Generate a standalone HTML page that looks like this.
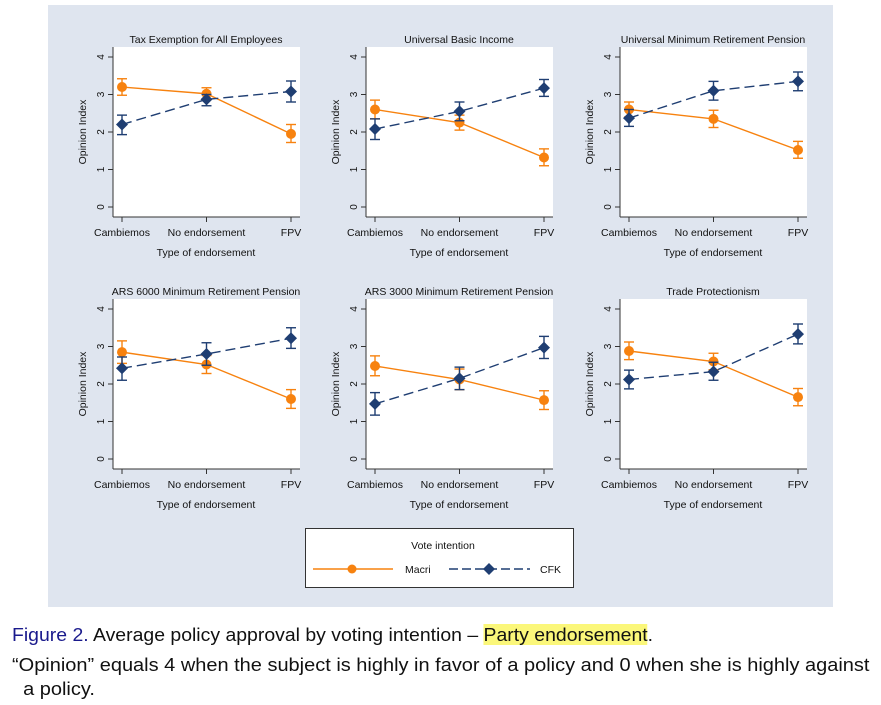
<!DOCTYPE html>
<html><head><meta charset="utf-8"><style>
body{margin:0;background:#fff;width:881px;height:705px;overflow:hidden;font-family:"Liberation Sans",sans-serif}
#bg{position:absolute;left:48px;top:5px;width:785px;height:602px;background:#dfe5ef}
.cap{position:absolute;left:12px;font-family:"Liberation Sans",sans-serif;font-size:18.5px;color:#111;white-space:nowrap;transform-origin:0 0}
</style></head><body>
<div id="bg"></div>
<svg id="chart" width="881" height="705" style="position:absolute;left:0;top:0"></svg>
<div class="cap" style="top:624px;transform:scaleX(1.05)"><span style="color:#1a1a8c">Figure 2.</span> Average policy approval by voting intention – <span style="background:#fbf77a">Party endorsement</span>.</div>
<div class="cap" style="top:653px;font-size:18px;line-height:24px;transform:scaleX(1.11)">“Opinion” equals 4 when the subject is highly in favor of a policy and 0 when she is highly against<br>&nbsp;&nbsp;a policy.</div>
<script>
const titles=["Tax Exemption for All Employees","Universal Basic Income","Universal Minimum Retirement Pension","ARS 6000 Minimum Retirement Pension","ARS 3000 Minimum Retirement Pension","Trade Protectionism"];
const categories=["Cambiemos","No endorsement","FPV"];
const yTicks=[0,1,2,3,4];
const macriMean=[[3.2,3.02,1.95],[2.6,2.25,1.32],[2.6,2.35,1.52],[2.85,2.52,1.6],[2.48,2.12,1.57],[2.88,2.6,1.65]];
const macriLo=[[2.98,2.88,1.72],[2.35,2.05,1.1],[2.4,2.12,1.3],[2.55,2.28,1.35],[2.22,1.85,1.32],[2.65,2.38,1.42]];
const macriHi=[[3.42,3.18,2.2],[2.85,2.45,1.55],[2.8,2.58,1.75],[3.15,2.76,1.85],[2.75,2.4,1.82],[3.12,2.82,1.88]];
const cfkMean=[[2.2,2.87,3.08],[2.08,2.55,3.17],[2.37,3.1,3.35],[2.42,2.8,3.22],[1.47,2.15,2.97],[2.12,2.33,3.33]];
const cfkLo=[[1.93,2.7,2.8],[1.8,2.3,2.95],[2.15,2.85,3.1],[2.1,2.5,2.95],[1.17,1.85,2.68],[1.87,2.1,3.07]];
const cfkHi=[[2.45,3.0,3.36],[2.35,2.8,3.4],[2.6,3.35,3.6],[2.72,3.1,3.5],[1.77,2.45,3.27],[2.37,2.58,3.6]];
const svg=document.getElementById('chart');const NS="http://www.w3.org/2000/svg";
function mk(t,a,p){const e=document.createElementNS(NS,t);for(const k in a)e.setAttribute(k,a[k]);(p||svg).appendChild(e);return e;}
const OR="#f7820f",NV="#1f3e72";
for(let i=0;i<6;i++){
 const L=[113,366,620][i%3],T=[47,299][Math.floor(i/3)];
 const g=mk('g',{});
 
 
 const X=c=>L+9+c*84.5, Y=v=>T+160-v*37.5;
 const r=mk('rect',{x:L,y:T,width:187,height:170,fill:'#fff'},g);
 
 const t=mk('text',{x:L+93,y:T-4,'text-anchor':'middle','font-size':10.5,fill:'#111'},g);t.textContent=titles[i];
 
 mk('line',{x1:L,y1:T,x2:L,y2:T+170,stroke:'#333','stroke-width':1},g);
 mk('line',{x1:L,y1:T+170,x2:L+187,y2:T+170,stroke:'#333','stroke-width':1},g);
 yTicks.forEach(v=>{mk('line',{x1:L-5,y1:Y(v),x2:L,y2:Y(v),stroke:'#333'},g);
  const tt=mk('text',{x:L-9,y:Y(v),'font-size':10,fill:'#111','text-anchor':'middle',transform:`rotate(-90 ${L-9} ${Y(v)})`},g);tt.textContent=v;
  });
 const yt=mk('text',{x:L-27,y:T+85,'font-size':10.5,fill:'#111','text-anchor':'middle',transform:`rotate(-90 ${L-27} ${T+85})`},g);yt.textContent="Opinion Index";
 
 categories.forEach((c,k)=>{mk('line',{x1:X(k),y1:T+170,x2:X(k),y2:T+175,stroke:'#333'},g);
  const tt=mk('text',{x:X(k),y:T+189,'font-size':10.5,fill:'#111','text-anchor':'middle'},g);tt.textContent=c;
  });
 const xt=mk('text',{x:L+93,y:T+209,'font-size':10.5,fill:'#111','text-anchor':'middle'},g);xt.textContent="Type of endorsement";
 
 [[macriMean,macriLo,macriHi,OR,null,'macri'],[cfkMean,cfkLo,cfkHi,NV,'10 5','cfk']].forEach(([m,lo,hi,col,da,nm])=>{
  const pl=mk('polyline',{points:m[i].map((v,k)=>X(k)+','+Y(v)).join(' '),fill:'none',stroke:col,'stroke-width':1.4,'stroke-dasharray':da||'none'},g);
  
  m[i].forEach((v,k)=>{const x=X(k);
   mk('line',{x1:x,y1:Y(lo[i][k]),x2:x,y2:Y(hi[i][k]),stroke:col,'stroke-width':1.4},g);
   mk('line',{x1:x-5,y1:Y(lo[i][k]),x2:x+5,y2:Y(lo[i][k]),stroke:col,'stroke-width':1.4},g);
   mk('line',{x1:x-5,y1:Y(hi[i][k]),x2:x+5,y2:Y(hi[i][k]),stroke:col,'stroke-width':1.4},g);
   let p;
   if(nm==='macri')p=mk('circle',{cx:x,cy:Y(v),r:5,fill:col},g);
   else p=mk('polygon',{points:`${x},${Y(v)-6} ${x+6},${Y(v)} ${x},${Y(v)+6} ${x-6},${Y(v)}`,fill:col},g);
   });
 });
}
const lg=mk('g',{});


mk('rect',{x:305.5,y:528.5,width:268,height:59,fill:'#fff',stroke:'#333'},lg);
let lt=mk('text',{x:443,y:549,'font-size':10.5,'text-anchor':'middle',fill:'#111'},lg);lt.textContent="Vote intention";
mk('line',{x1:313,y1:569,x2:393,y2:569,stroke:OR,'stroke-width':1.6},lg);mk('circle',{cx:352,cy:569,r:4.5,fill:OR},lg);
lt=mk('text',{x:405,y:573,'font-size':10.5,fill:'#111'},lg);lt.textContent="Macri";
mk('line',{x1:449,y1:569,x2:530,y2:569,stroke:NV,'stroke-width':1.6,'stroke-dasharray':'9 4'},lg);
mk('polygon',{points:'489,563 495,569 489,575 483,569',fill:NV},lg);
lt=mk('text',{x:540,y:573,'font-size':10.5,fill:'#111'},lg);lt.textContent="CFK";
</script>
</body></html>
